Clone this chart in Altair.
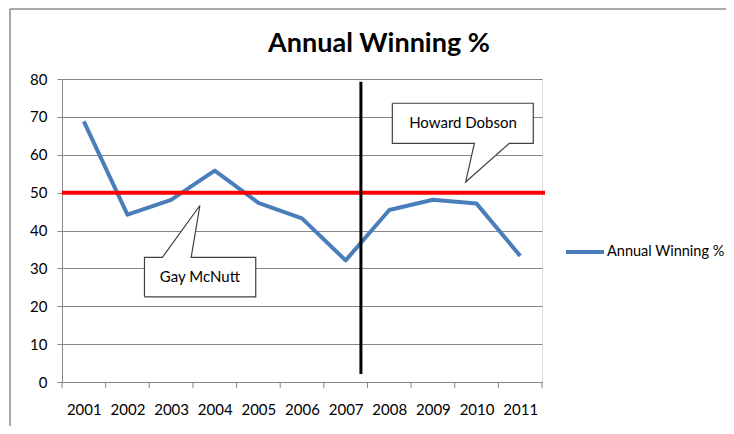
import altair as alt
import pandas as pd

# ---- data ----
years = [2001, 2002, 2003, 2004, 2005, 2006, 2007, 2008, 2009, 2010, 2011]
winning = [68.8, 44.2, 48.1, 55.8, 47.3, 43.2, 32.1, 45.4, 48.1, 47.1, 33.3]
series_name = "Annual Winning %"
chart_title = "Annual Winning %"
y_ticks = [0, 10, 20, 30, 40, 50, 60, 70, 80]

threshold = 50
coach_change_x = 2007.35
coach_change_y = [2.1, 79.3]

# callout shapes (data units): box + pointer
gay_x = [2002.39, 2002.39, 2002.80, 2003.66, 2003.46, 2004.94, 2004.94, 2002.39]
gay_y = [22.5, 32.9, 32.9, 46.6, 32.9, 32.9, 22.5, 22.5]
how_x = [2008.07, 2011.30, 2011.30, 2010.75, 2009.75, 2009.95, 2008.07, 2008.07]
how_y = [73.6, 73.6, 63.0, 63.0, 52.8, 63.0, 63.0, 73.6]
labels = ["Gay McNutt", "Howard Dobson"]
label_x = [2003.66, 2009.69]
label_y = [27.7, 68.3]

W, H = 480, 303
FONT = "Lato"
GRAY = "#878787"

df = pd.DataFrame({"year": years, "pct": winning, "series": series_name})
x_scale = alt.Scale(domain=[2000.5, 2011.5], nice=False, zero=False)
y_scale = alt.Scale(domain=[0, 80], nice=False)

x_axis = alt.Axis(values=years, format="d", title=None, grid=False,
                  ticks=False, labelPadding=20, labelFont=FONT,
                  labelFontSize=15, labelColor="#000000",
                  domainColor=GRAY, labelFlush=False, labelOverlap=False)
y_axis = alt.Axis(values=y_ticks, title=None,
                  grid=True, gridColor=GRAY, gridWidth=1,
                  tickSize=5, tickColor=GRAY, domainColor=GRAY,
                  labelPadding=10, labelFont=FONT, labelFontSize=15,
                  labelColor="#000000", labelOverlap=False)


def X(field):
    return alt.X(field, scale=x_scale, axis=x_axis)


def Y(field):
    return alt.Y(field, scale=y_scale, axis=y_axis)


line = alt.Chart(df).mark_line(strokeWidth=4, strokeJoin="round").encode(
    x=X("year:Q"), y=Y("pct:Q"),
    color=alt.Color("series:N", scale=alt.Scale(range=["#4A7EBB"]),
                    legend=alt.Legend(title=None, orient="none", legendX=502,
                                      legendY=152, symbolType="stroke",
                                      symbolSize=1444, symbolStrokeWidth=4,
                                      labelFont=FONT, labelFontSize=14.5,
                                      labelColor="#000000", labelOffset=1,
                                      labelLimit=300)),
)

boundaries = [y - 0.5 for y in years] + [years[-1] + 0.5]
ticks = alt.Chart(pd.DataFrame({"b": boundaries})).mark_rule(color=GRAY, strokeWidth=1).encode(
    x=X("b:Q"), y=alt.value(H), y2=alt.value(H + 6))

red = alt.Chart(pd.DataFrame({"t": [threshold]})).mark_rule(color="#FF0000", strokeWidth=4).encode(
    y=Y("t:Q"), x=alt.value(0), x2=alt.value(W + 3))

vline = alt.Chart(pd.DataFrame({"x": [coach_change_x], "y1": [coach_change_y[0]], "y2": [coach_change_y[1]]})).mark_rule(
    color="#000000", strokeWidth=3).encode(
    x=X("x:Q"), y=Y("y1:Q"), y2="y2:Q")

shape_df = pd.concat([
    pd.DataFrame({"cx": gay_x, "cy": gay_y, "o": range(len(gay_x)), "g": "gay"}),
    pd.DataFrame({"cx": how_x, "cy": how_y, "o": range(len(how_x)), "g": "how"}),
])
callouts = alt.Chart(shape_df).mark_line(fill="#FFFFFF", stroke="#404040", strokeWidth=1.2,
                                         strokeJoin="miter").encode(
    x=X("cx:Q"), y=Y("cy:Q"), order="o:Q", detail="g:N")

texts = alt.Chart(pd.DataFrame({"lab": labels, "lx": label_x, "ly": label_y})).mark_text(
    font=FONT, fontSize=15, color="#000000").encode(
    x=X("lx:Q"), y=Y("ly:Q"), text="lab:N")

title = alt.Chart(pd.DataFrame({"t": [chart_title]})).mark_text(
    font=FONT, fontSize=27, fontWeight="bold", color="#000000", align="center",
    baseline="alphabetic").encode(x=alt.value(317), y=alt.value(-27), text="t:N")

frame = pd.DataFrame({"a": [0]})
border_top = alt.Chart(frame).mark_rule(color="#8C8C8C", strokeWidth=1.5).encode(
    x=alt.value(-52), x2=alt.value(W + 184), y=alt.value(-70))
border_left = alt.Chart(frame).mark_rule(color="#8C8C8C", strokeWidth=1.5).encode(
    x=alt.value(-52), y=alt.value(-70), y2=alt.value(H + 44))

chart = alt.layer(border_top, border_left, line, ticks, red, vline, callouts, texts, title).properties(
    width=W, height=H,
    autosize=alt.AutoSizeParams(type="none"),
    padding={"left": 54, "top": 71, "right": 184, "bottom": 44},
).configure_view(stroke=None).configure(background="#FFFFFF")

chart.save("out.html", embed_options={"renderer": "svg", "actions": False})
